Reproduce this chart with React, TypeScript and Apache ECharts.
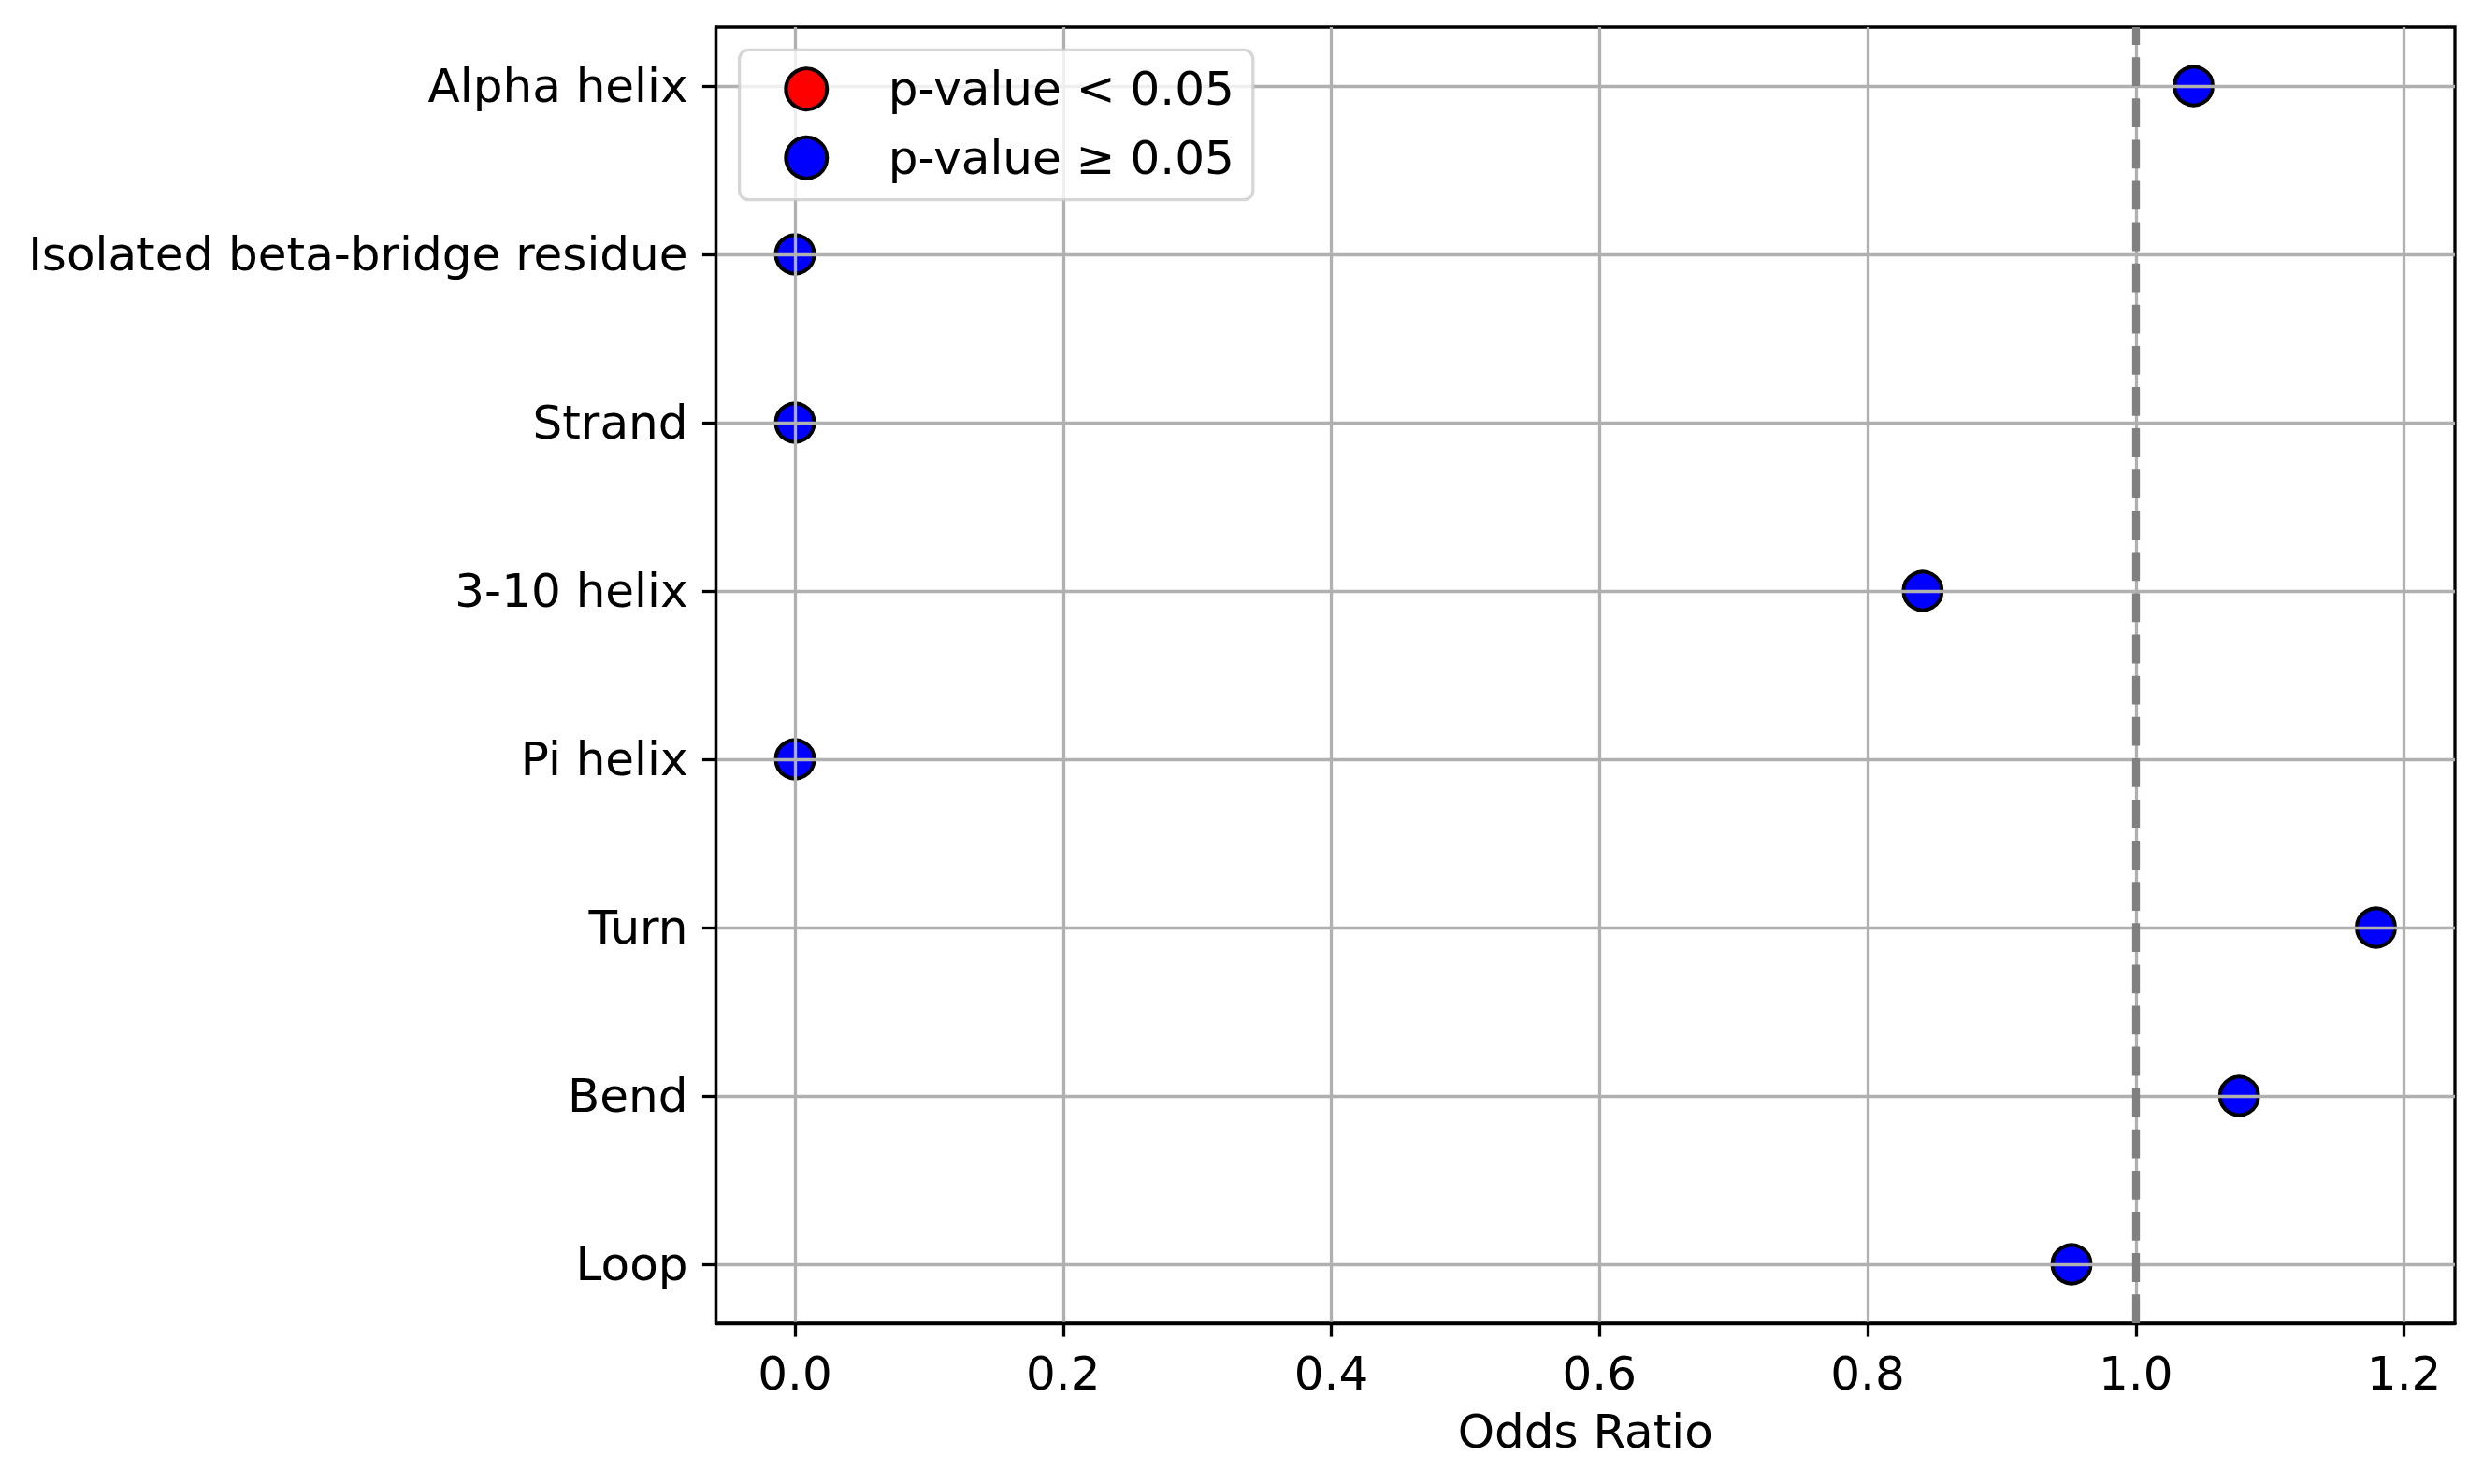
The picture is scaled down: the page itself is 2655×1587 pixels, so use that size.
import React, { useEffect, useRef } from "react";
import * as echarts from "echarts";

const categories = [
  "Alpha helix",
  "Isolated beta-bridge residue",
  "Strand",
  "3-10 helix",
  "Pi helix",
  "Turn",
  "Bend",
  "Loop",
];
const oddsRatios = [1.043, 0, 0, 0.841, 0, 1.179, 1.077, 0.952];
const significant = [false, false, false, false, false, false, false, false];
const xTicks = [0, 0.2, 0.4, 0.6, 0.8, 1.0, 1.2];
const referenceOddsRatio = 1.0;
const legendNames = ["p-value < 0.05", "p-value \u2265 0.05"];

const FONT = "DejaVu Sans";
const GRID_COLOR = "#b0b0b0";

export default function App() {
  const ref = useRef<HTMLDivElement>(null);
  useEffect(() => {
    if (!ref.current) return;
    const chart = echarts.init(ref.current, null, { renderer: "svg" });
    const yIdx = categories.map((_, i) => i);
    const sigData = oddsRatios
      .map((v, i) => (significant[i] ? [v, i] : null))
      .filter((d) => d !== null);
    const nsData = oddsRatios
      .map((v, i) => (!significant[i] ? [v, i] : null))
      .filter((d) => d !== null);
    const yMin = -0.35;
    const yMax = categories.length - 1 + 0.35;
    const xMinData = Math.min(...oddsRatios);
    const xMaxData = Math.max(...oddsRatios);
    const xPad = (xMaxData - xMinData) * 0.05;

    const markerStyle = (color: string) => ({
      color,
      borderColor: "#000000",
      borderWidth: 4,
      opacity: 1,
    });

    chart.setOption({
      animation: false,
      backgroundColor: "#ffffff",
      grid: {
        left: 765.5,
        top: 29,
        right: 30,
        bottom: 172,
        show: true,
        borderColor: "#000000",
        borderWidth: 3.3,
        backgroundColor: "transparent",
      },
      legend: {
        show: true,
        orient: "vertical",
        left: 790.6,
        top: 53.3,
        padding: [17, 20, 20, 47.7],
        itemGap: 23.4,
        itemWidth: 44,
        itemHeight: 44,
        icon: "circle",
        backgroundColor: "rgba(255,255,255,0.8)",
        borderColor: "rgba(204,204,204,0.8)",
        borderWidth: 3.3,
        borderRadius: 10,
        itemStyle: { borderColor: "#000000", borderWidth: 4 },
        textStyle: {
          fontFamily: FONT,
          fontSize: 50,
          color: "#000000",
          lineHeight: 50,
          padding: [0, 0, 0, 60.5],
        },
        data: legendNames,
        z: 10,
      },
      xAxis: {
        type: "value",
        min: xMinData - xPad,
        max: xMaxData + xPad,
        z: 2,
        axisLine: { show: true, onZero: false, lineStyle: { color: "#000000", width: 3.3 } },
        axisTick: {
          show: true,
          customValues: xTicks,
          length: 14.6,
          lineStyle: { color: "#000000", width: 3.3 },
        },
        axisLabel: {
          customValues: xTicks,
          margin: 29,
          fontFamily: FONT,
          fontSize: 50,
          color: "#000000",
          formatter: (v: number) => v.toFixed(1),
        },
        splitLine: { show: true, lineStyle: { color: GRID_COLOR, width: 3.3 } },
        name: "Odds Ratio",
        nameLocation: "middle",
        nameGap: 91,
        nameTextStyle: { fontFamily: FONT, fontSize: 50, color: "#000000" },
      },
      yAxis: {
        type: "value",
        inverse: true,
        min: yMin,
        max: yMax,
        z: 2,
        axisLine: { show: true, onZero: false, lineStyle: { color: "#000000", width: 3.3 } },
        axisTick: {
          show: true,
          customValues: yIdx,
          length: 14.6,
          lineStyle: { color: "#000000", width: 3.3 },
        },
        axisLabel: {
          customValues: yIdx,
          margin: 30,
          fontFamily: FONT,
          fontSize: 50,
          color: "#000000",
          formatter: (v: number) => categories[Math.round(v)] ?? "",
        },
        splitLine: { show: true, lineStyle: { color: GRID_COLOR, width: 3.3 } },
      },
      series: [
        {
          name: legendNames[0],
          type: "scatter",
          z: 1,
          symbol: "circle",
          symbolSize: 41,
          itemStyle: markerStyle("#ff0000"),
          data: sigData,
        },
        {
          name: legendNames[1],
          type: "scatter",
          z: 1,
          symbol: "circle",
          symbolSize: 41,
          itemStyle: markerStyle("#0000ff"),
          data: nsData,
          markLine: {
            silent: true,
            symbol: ["none", "none"],
            label: { show: false },
            z: 5,
            lineStyle: { color: "#808080", width: 8.3, type: [30.8, 13.3] },
            data: [
              [
                { coord: [referenceOddsRatio, yMax] },
                { coord: [referenceOddsRatio, yMin] },
              ],
            ],
          },
        },
      ],
    });
    return () => chart.dispose();
  }, []);
  return (
    <div
      ref={ref}
      style={{ position: "fixed", left: 0, top: 0, width: 2655, height: 1587 }}
    />
  );
}
